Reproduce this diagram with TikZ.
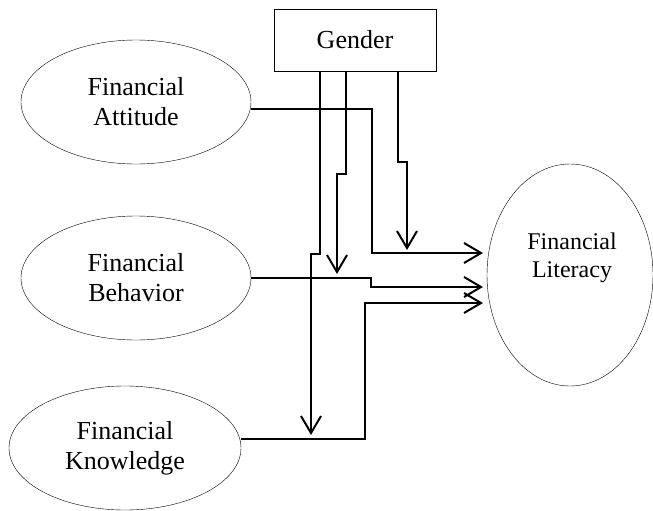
\documentclass[tikz,border=0pt]{standalone}
\usepackage{fontspec}
\setmainfont{Liberation Serif}
\usetikzlibrary{arrows.meta, shapes.geometric}
\begin{document}
\begin{tikzpicture}[x=1pt, y=-1pt,
  every node/.style={font=\fontsize{26}{30}\selectfont, align=center},
  oval/.style={draw, thin, ellipse, inner sep=0pt, minimum width=230pt, minimum height=124pt},
  conn/.style={line width=2pt},
  arr/.style={conn, -{Straight Barb[length=17pt, width=20pt, line width=2pt]}}]
  \useasboundingbox (0,0) rectangle (653,511);
  % Moderator
  \node[draw, thin, minimum width=162pt, minimum height=62pt, inner sep=0pt] (gen) at (355,40) {Gender};
  % Independent variables
  \node[oval] (att) at (136,102) {Financial\\Attitude};
  \node[oval] (beh) at (136,278) {Financial\\Behavior};
  \node[oval, minimum width=232pt] (kno) at (125,448) {Financial\\Knowledge};
  % Dependent variable
  \node[draw, thin, ellipse, inner sep=0pt, minimum width=166pt, minimum height=222pt] (lit) at (570,275) {};
  \node[font=\fontsize{24}{28}\selectfont] (littxt) at (572,258) {Financial\\Literacy};
  % Arrow ends
  \coordinate (t1) at (483,253);
  \coordinate (t2) at (483,287);
  \coordinate (t3) at (483,303);
  \coordinate (g1) at (311,435);
  \coordinate (g2) at (337,274);
  \coordinate (g3) at (407,250);
  % Paths into literacy
  \draw[arr] ([yshift=-7pt]att.east) -- (372,109) -- (372,253) -- (t1);
  \draw[arr] (beh.east) -- (371,278) -- (371,287) -- (t2);
  \draw[arr] ([yshift=9pt]kno.east) -- (365,439) -- (365,303) -- (t3);
  % Moderating paths from gender
  \draw[arr] ([xshift=-35pt]gen.south) -- ++(0,183) -- ++(-9,0) -- (g1);
  \draw[arr] ([xshift=-9pt]gen.south) -- ++(0,103) -- ++(-9,0) -- (g2);
  \draw[arr] ([xshift=43pt]gen.south) -- ++(0,91) -- ++(9,0) -- (g3);
\end{tikzpicture}
\end{document}
